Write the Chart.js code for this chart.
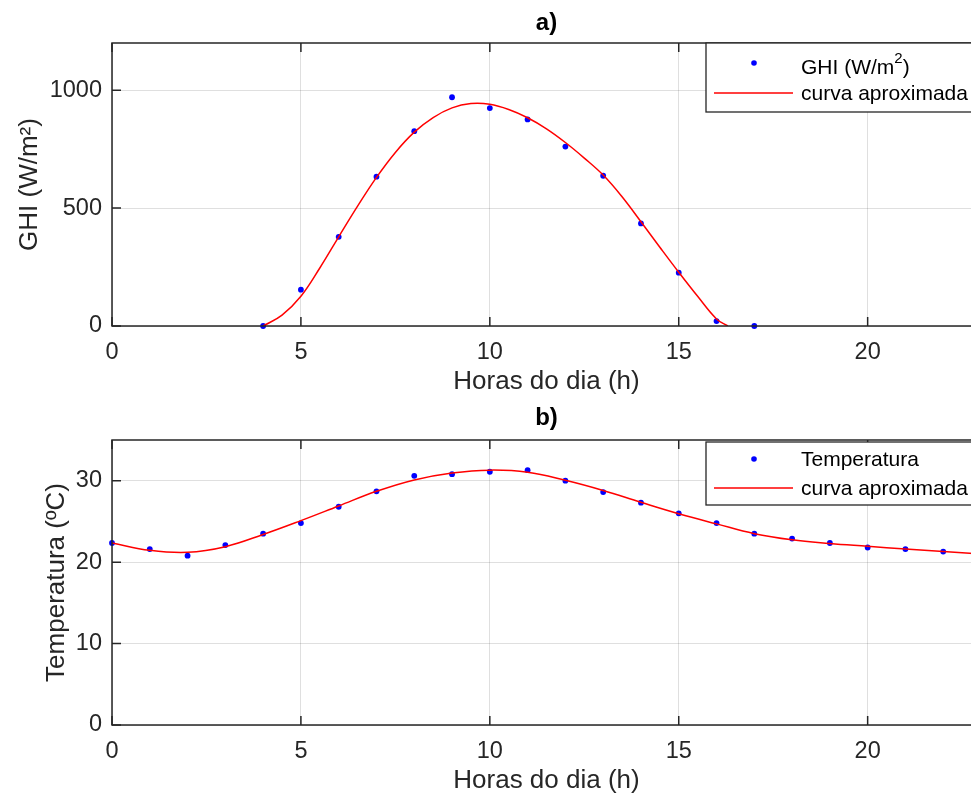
<!DOCTYPE html>
<html>
<head>
<meta charset="utf-8">
<script src="https://cdn.jsdelivr.net/npm/chart.js@4.4.1/dist/chart.umd.min.js"></script>
<style>
  html, body { margin: 0; padding: 0; background: #fff; overflow: hidden; width: 971px; height: 796px; }
  canvas { position: absolute; left: 0; display: block; }
  #chartGHI { top: 0; }
  #chartTemp { top: 398px; }
</style>
</head>
<body>
<canvas id="chartGHI" width="990" height="398"></canvas>
<canvas id="chartTemp" width="990" height="398"></canvas>
<script>
// medições de GHI (W/m2) por hora
const ghiHours = [4, 5, 6, 7, 8, 9, 10, 11, 12, 13, 14, 15, 16, 17];
const ghiValues = [0, 154, 378, 633, 826, 970, 924, 876, 761, 637, 435, 226, 21, 0];

// curva aproximada da GHI
const ghiCurveHours = [4, 4.5, 5, 5.5, 6, 6.5, 7, 7.5, 8, 8.5, 9, 9.5, 10, 10.5, 11, 11.5, 12, 12.5, 13, 13.5, 14, 14.5, 15, 15.5, 16, 16.3];
const ghiCurveValues = [0, 46, 126, 246, 378, 508, 630, 736, 822, 884, 925, 943, 940, 918, 883, 836, 778, 712, 640, 548, 442, 334, 228, 126, 30, 0];

// temperatura (ºC) por hora
const tempHours = [0, 1, 2, 3, 4, 5, 6, 7, 8, 9, 10, 11, 12, 13, 14, 15, 16, 17, 18, 19, 20, 21, 22];
const tempValues = [22.35, 21.6, 20.8, 22.1, 23.5, 24.8, 26.8, 28.7, 30.6, 30.8, 31.1, 31.3, 30.0, 28.6, 27.3, 26.0, 24.8, 23.5, 22.9, 22.35, 21.8, 21.6, 21.3];

// curva aproximada da temperatura
const tempCurveHours = [0, 1, 2, 3, 4, 5, 6, 7, 8, 9, 10, 11, 12, 13, 14, 15, 16, 17, 18, 19, 20, 21, 22, 23];
const tempCurveValues = [22.35, 21.45, 21.2, 21.9, 23.4, 25.1, 26.9, 28.7, 30.1, 30.95, 31.3, 31.05, 30.05, 28.8, 27.35, 25.95, 24.7, 23.5, 22.75, 22.3, 21.95, 21.6, 21.3, 21.0];

// ticks dos eixos
const hourTicks = [0, 5, 10, 15, 20];
const ghiTicks = [0, 500, 1000];
const tempTicks = [0, 10, 20, 30];

const xLabel = 'Horas do dia (h)';
const FONT = "'Liberation Sans', Arial, Helvetica, sans-serif";
const INK = '#262626';
const TICK = 9;

function toPoints(xs, ys) {
    return xs.map((x, i) => ({ x: x, y: ys[i] }));
}

// caixa, marcas internas, título e legenda no estilo MATLAB
const matlabFrame = {
    id: 'matlabFrame',
    afterDraw(chart, args, o) {
        const ctx = chart.ctx;
        const a = chart.chartArea;
        const x = chart.scales.x;
        const y = chart.scales.y;
        ctx.save();
        ctx.strokeStyle = INK;
        ctx.lineWidth = 1.5;
        ctx.beginPath();
        x.ticks.forEach(t => {
            const px = x.getPixelForValue(t.value);
            ctx.moveTo(px, a.bottom); ctx.lineTo(px, a.bottom - TICK);
            ctx.moveTo(px, a.top); ctx.lineTo(px, a.top + TICK);
        });
        y.ticks.forEach(t => {
            const py = y.getPixelForValue(t.value);
            ctx.moveTo(a.left, py); ctx.lineTo(a.left + TICK, py);
            ctx.moveTo(a.right, py); ctx.lineTo(a.right - TICK, py);
        });
        ctx.stroke();
        ctx.strokeRect(a.left, a.top, a.right - a.left, a.bottom - a.top);

        // título
        ctx.fillStyle = '#000';
        ctx.font = 'bold 24px ' + FONT;
        ctx.textAlign = 'center';
        ctx.textBaseline = 'middle';
        ctx.fillText(o.title, (a.left + a.right) / 2, o.titleY);

        // legenda
        const L = o.legend;
        ctx.fillStyle = '#fff';
        ctx.fillRect(L.x, L.y, 300, L.h);
        ctx.lineWidth = 1.3;
        ctx.strokeStyle = INK;
        ctx.strokeRect(L.x, L.y, 300, L.h);

        ctx.fillStyle = '#0000ff';
        ctx.beginPath();
        ctx.arc(754, L.dotY, 2.8, 0, Math.PI * 2);
        ctx.fill();

        ctx.strokeStyle = '#ff0000';
        ctx.lineWidth = 1.5;
        ctx.beginPath();
        ctx.moveTo(714, L.lineY);
        ctx.lineTo(793, L.lineY);
        ctx.stroke();

        ctx.fillStyle = '#000';
        ctx.textAlign = 'left';
        ctx.textBaseline = 'middle';
        ctx.font = '21px ' + FONT;
        let tx = 801;
        L.label.forEach(p => {
            if (p.sup) {
                ctx.font = '15px ' + FONT;
                ctx.fillText(p.text, tx, L.textY - 9);
                tx += ctx.measureText(p.text).width;
                ctx.font = '21px ' + FONT;
            } else {
                ctx.fillText(p.text, tx, L.textY);
                tx += ctx.measureText(p.text).width;
            }
        });
        ctx.fillText('curva aproximada', 801, L.lineTextY);
        ctx.restore();
    }
};

function makeChart(id, cfg) {
    return new Chart(id, {
        type: 'scatter',
        data: {
            datasets: [{
                label: 'curva aproximada',
                type: 'line',
                data: toPoints(cfg.curveX, cfg.curveY),
                borderColor: '#ff0000',
                borderWidth: 1.5,
                pointRadius: 0,
                fill: false,
                tension: 0.4,
                order: 0
            }, {
                label: cfg.seriesName,
                data: toPoints(cfg.pointsX, cfg.pointsY),
                pointRadius: 2.9,
                pointBackgroundColor: '#0000ff',
                pointBorderWidth: 0,
                clip: false,
                order: 1
            }]
        },
        options: {
            responsive: false,
            animation: false,
            events: [],
            layout: { padding: { top: cfg.areaTop, right: 9, left: 0, bottom: 0 } },
            scales: {
                x: {
                    type: 'linear',
                    min: 0,
                    max: 23,
                    afterFit: s => { s.height = cfg.xAxisHeight; },
                    afterBuildTicks: s => { s.ticks = hourTicks.map(v => ({ value: v })); },
                    border: { display: false },
                    grid: { color: 'rgba(38,38,38,0.15)', drawTicks: false },
                    ticks: {
                        maxRotation: 0, autoSkip: false, callback: v => String(v),
                        padding: 12, color: INK, font: { family: FONT, size: 23.5 }
                    },
                    title: {
                        display: true, text: xLabel, color: INK,
                        font: { family: FONT, size: 26, lineHeight: 1 },
                        padding: { top: 0, bottom: cfg.xTitlePad }
                    }
                },
                y: {
                    min: 0,
                    max: cfg.yMax,
                    afterFit: s => { s.width = 112; },
                    afterBuildTicks: s => { s.ticks = cfg.yTicks.map(v => ({ value: v })); },
                    border: { display: false },
                    grid: { color: 'rgba(38,38,38,0.15)', drawTicks: false },
                    ticks: {
                        autoSkip: false, callback: v => String(v),
                        padding: 10, color: INK, font: { family: FONT, size: 23.5 }
                    },
                    title: {
                        display: true, text: cfg.yLabel, color: INK,
                        font: { family: FONT, size: 26, lineHeight: 1 },
                        padding: { top: cfg.yTitlePad, bottom: 0 }
                    }
                }
            },
            plugins: {
                legend: { display: false },
                tooltip: { enabled: false },
                matlabFrame: { title: cfg.title, titleY: cfg.titleY, legend: cfg.legend }
            }
        },
        plugins: [matlabFrame]
    });
}

makeChart('chartGHI', {
    pointsX: ghiHours, pointsY: ghiValues,
    curveX: ghiCurveHours, curveY: ghiCurveValues,
    seriesName: 'GHI (W/m²)',
    yLabel: 'GHI (W/m²)', yMax: 1200, yTicks: ghiTicks,
    areaTop: 43, xAxisHeight: 72, xTitlePad: 3, yTitlePad: 17,
    title: 'a)', titleY: 23,
    legend: { x: 706, y: 43, h: 69, dotY: 63, textY: 68, lineY: 93, lineTextY: 94,
        label: [{ text: 'GHI (W/m' }, { text: '2', sup: true }, { text: ')' }] }
});

makeChart('chartTemp', {
    pointsX: tempHours, pointsY: tempValues,
    curveX: tempCurveHours, curveY: tempCurveValues,
    seriesName: 'Temperatura',
    yLabel: 'Temperatura (ºC)', yMax: 35, yTicks: tempTicks,
    areaTop: 42, xAxisHeight: 71, xTitlePad: 2, yTitlePad: 44,
    title: 'b)', titleY: 20,
    legend: { x: 706, y: 44, h: 63, dotY: 61, textY: 62, lineY: 90, lineTextY: 91,
        label: [{ text: 'Temperatura' }] }
});
</script>
</body>
</html>
